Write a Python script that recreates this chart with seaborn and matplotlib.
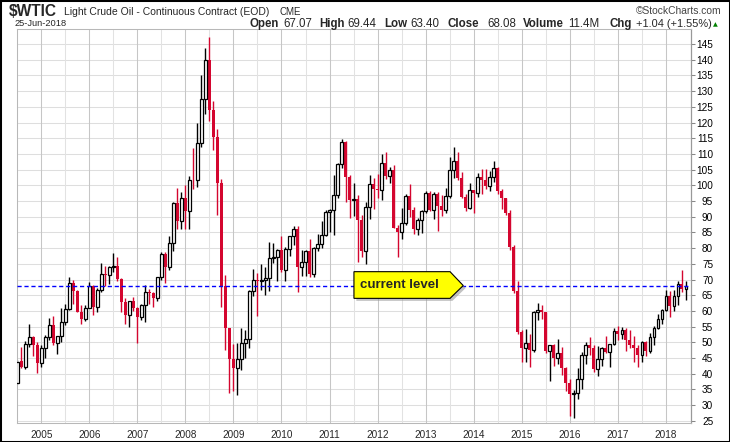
import numpy as np
import pandas as pd
import matplotlib
matplotlib.use("Agg")
import matplotlib.pyplot as plt
from matplotlib.patches import Polygon, Rectangle
import seaborn as sns

sns.set_style("white")
plt.rcParams['font.family'] = ['Liberation Sans', 'DejaVu Sans']

# monthly candles, Jul 2004 .. Jun 2018
opens = [
    37.1, 43.9, 42.1, 49.6, 51.8, 49.1,
    43.4, 48.2, 51.8, 55.4, 49.7, 52.0, 56.5, 60.6, 68.9, 66.2, 59.8, 57.3,
    61.0, 67.9, 61.4, 66.6, 71.9, 71.3, 73.9, 74.4, 70.3, 62.9, 58.7, 63.1,
    61.0, 58.1, 61.8, 65.9, 65.7, 64.0, 70.7, 78.2, 74.0, 81.7, 94.5, 88.7,
    96.0, 91.8, 101.8, 101.6, 113.5, 127.4, 140.0, 124.1, 115.5, 100.6, 67.8, 54.4,
    44.6, 41.7, 44.8, 49.7, 51.1, 66.3, 69.9, 69.5, 70.0, 70.6, 77.0, 77.3,
    79.4, 72.9, 79.7, 83.8, 86.2, 74.0, 75.6, 79.0, 71.9, 80.0, 81.4, 84.1,
    91.4, 92.2, 97.0, 106.7, 113.9, 102.7, 95.4, 95.7, 88.8, 79.2, 93.2, 100.4,
    98.8, 98.5, 107.1, 103.0, 104.9, 86.5, 85.0, 88.1, 96.5, 92.2, 86.2, 88.9,
    91.8, 97.5, 92.1, 97.2, 93.5, 92.0, 96.6, 105.0, 107.7, 102.3, 96.4, 92.7,
    98.4, 97.5, 102.6, 101.6, 99.7, 102.7, 105.4, 98.2, 96.0, 91.2, 80.5, 66.2,
    53.3, 48.2, 49.8, 47.6, 59.6, 60.3, 59.5, 47.1, 49.2, 45.1, 46.6, 41.7,
    37.0, 33.6, 33.8, 38.3, 45.9, 49.1, 48.3, 41.6, 44.7, 48.2, 46.9, 49.4,
    53.7, 52.8, 54.0, 50.6, 49.3, 48.3, 46.0, 50.2, 47.2, 51.7, 54.4, 57.4,
    60.4, 64.7, 61.6, 64.9, 68.6, 67.07,
]
highs = [
    44.3, 48.5, 50.5, 55.7, 52.0, 50.0,
    49.0, 52.4, 57.6, 58.3, 52.1, 60.9, 62.3, 70.9, 70.0, 66.6, 62.0, 61.9,
    69.2, 68.3, 67.4, 75.4, 74.4, 74.2, 78.4, 77.3, 70.4, 64.0, 63.3, 64.3,
    61.3, 62.3, 68.1, 66.9, 66.0, 70.9, 78.8, 78.8, 83.9, 94.7, 99.3, 97.9,
    100.1, 103.1, 111.8, 119.9, 135.1, 143.7, 147.3, 127.0, 117.8, 102.0, 71.5, 54.7,
    49.6, 49.9, 54.7, 54.0, 66.6, 73.4, 72.0, 75.0, 74.1, 82.0, 81.5, 79.7,
    83.9, 80.5, 83.9, 87.2, 87.0, 79.4, 79.4, 82.9, 80.5, 84.4, 88.6, 92.0,
    92.6, 103.4, 107.0, 114.8, 114.2, 103.4, 100.6, 96.9, 90.5, 94.7, 103.4, 102.4,
    103.7, 110.0, 110.6, 106.0, 106.4, 87.3, 92.9, 97.4, 100.4, 93.0, 89.7, 92.0,
    98.2, 98.2, 97.8, 97.8, 97.0, 99.0, 108.9, 112.2, 110.7, 104.4, 97.1, 100.8,
    98.5, 103.8, 105.2, 105.2, 104.5, 107.7, 105.8, 98.8, 96.0, 92.2, 80.9, 69.4,
    54.0, 54.2, 52.5, 59.9, 62.6, 61.8, 59.7, 49.3, 49.4, 50.9, 48.4, 42.0,
    38.4, 34.8, 41.9, 46.8, 50.2, 51.7, 49.0, 48.8, 48.4, 51.9, 49.6, 54.5,
    55.2, 54.9, 54.6, 53.8, 52.0, 49.0, 50.4, 50.4, 52.9, 55.2, 59.0, 60.5,
    66.7, 66.4, 66.6, 69.6, 72.9, 69.44,
]
lows = [
    36.6, 41.9, 41.6, 48.6, 45.6, 40.3,
    42.1, 45.0, 50.7, 49.2, 46.2, 50.0, 55.5, 60.2, 62.2, 59.5, 55.8, 56.8,
    60.8, 58.8, 59.6, 65.9, 68.0, 68.5, 72.3, 69.6, 59.5, 55.9, 54.9, 60.1,
    49.9, 57.2, 56.4, 62.1, 61.3, 63.3, 69.7, 69.0, 72.9, 79.1, 86.0, 86.1,
    86.1, 86.1, 98.7, 99.6, 112.3, 122.7, 120.4, 111.3, 90.5, 61.3, 47.5, 34.0,
    34.5, 33.2, 41.2, 45.0, 48.3, 64.8, 58.3, 66.7, 65.1, 66.2, 75.2, 69.5,
    72.4, 69.5, 77.6, 81.0, 66.0, 71.0, 71.0, 70.8, 70.8, 79.2, 80.1, 84.0,
    85.1, 84.1, 96.0, 105.5, 94.6, 89.6, 90.3, 75.7, 77.1, 75.0, 89.2, 92.5,
    96.0, 95.4, 102.0, 100.7, 86.4, 77.3, 83.0, 87.5, 90.0, 84.5, 84.1, 84.7,
    91.3, 91.8, 89.3, 85.6, 90.2, 91.1, 96.1, 102.2, 101.6, 95.9, 91.8, 92.5,
    91.2, 96.2, 97.4, 98.7, 98.2, 101.0, 97.3, 92.5, 90.4, 79.4, 65.7, 52.7,
    43.6, 43.6, 42.0, 47.0, 57.0, 57.4, 46.7, 37.8, 42.5, 43.0, 39.6, 34.5,
    26.5, 26.0, 32.0, 35.2, 43.0, 46.0, 40.6, 39.2, 42.5, 46.6, 42.2, 49.3,
    50.7, 51.2, 47.1, 48.2, 43.8, 42.1, 43.6, 45.6, 46.5, 49.1, 54.2, 55.8,
    59.9, 58.1, 59.9, 62.0, 66.1, 63.40,
]
closes = [
    43.8, 42.1, 49.6, 51.8, 49.1, 43.5,
    48.2, 51.8, 55.4, 49.7, 52.0, 56.5, 60.6, 68.9, 66.2, 59.8, 57.3, 61.0,
    67.9, 61.4, 66.6, 71.9, 71.3, 73.9, 74.4, 70.3, 62.9, 58.7, 63.1, 61.0,
    58.1, 61.8, 65.9, 65.7, 64.0, 70.7, 78.2, 74.0, 81.7, 94.5, 88.7, 96.0,
    91.8, 101.8, 101.6, 113.5, 127.4, 140.0, 124.1, 115.5, 100.6, 67.8, 54.4, 44.6,
    41.7, 44.8, 49.7, 51.1, 66.3, 69.9, 69.5, 70.0, 70.6, 77.0, 77.3, 79.4,
    72.9, 79.7, 83.8, 86.2, 74.0, 75.6, 79.0, 71.9, 80.0, 81.4, 84.1, 91.4,
    92.2, 97.0, 106.7, 113.9, 102.7, 95.4, 95.7, 88.8, 79.2, 93.2, 100.4, 98.8,
    98.5, 107.1, 103.0, 104.9, 86.5, 85.0, 88.1, 96.5, 92.2, 86.2, 88.9, 91.8,
    97.5, 92.1, 97.2, 93.5, 92.0, 96.6, 105.0, 107.7, 102.3, 96.4, 92.7, 98.4,
    97.5, 102.6, 101.6, 99.7, 102.7, 105.4, 98.2, 96.0, 91.2, 80.5, 66.2, 53.3,
    48.2, 49.8, 47.6, 59.6, 60.3, 59.5, 47.1, 49.2, 45.1, 46.6, 41.7, 37.0,
    33.6, 33.8, 38.3, 45.9, 49.1, 48.3, 41.6, 44.7, 48.2, 46.9, 49.4, 53.7,
    52.8, 54.0, 50.6, 49.3, 48.3, 46.0, 50.2, 47.2, 51.7, 54.4, 57.4, 60.4,
    64.7, 61.6, 64.9, 68.6, 67.0, 68.08,
]
current_level = 68.08
y_ticks = list(range(25, 150, 5))

df = pd.DataFrame({
    "month": pd.date_range("2004-07-01", periods=len(closes), freq="MS"),
    "open": opens, "high": highs, "low": lows, "close": closes,
})
df["x"] = np.arange(len(df))
df["up"] = df["close"] >= df["open"]

W, H = 730, 442
fig = plt.figure(figsize=(W / 100, H / 100), dpi=100)
ax = fig.add_axes([16.7 / W, 1 - 423.3 / H, (691 - 16.7) / W, (423.3 - 29) / H])

def px(x, y):
    return x / W, 1 - y / H

# grid
for v in y_ticks:
    ax.axhline(v, color='#dedede', lw=0.75, zorder=0)
years = df[df["month"].dt.month == 1]
julys = df[df["month"].dt.month == 7]
for i in julys["x"]:
    ax.axvline(i, color='#e2e2e2', lw=0.75, zorder=0)
for i in years["x"]:
    ax.axvline(i, color='#c6c6c6', lw=0.75, zorder=0)

red = '#d4062f'
dn = df[~df["up"]]
up = df[df["up"]]
ax.vlines(dn["x"], dn["low"], dn["high"], color=red, lw=1.0, zorder=2)
ax.vlines(up["x"], up["low"], up["high"], color='black', lw=1.0, zorder=2)
ax.bar(dn["x"], dn["open"] - dn["close"], bottom=dn["close"], width=0.85,
       color=red, lw=0, zorder=3)
ax.bar(up["x"], (up["close"] - up["open"]).clip(lower=0.15), bottom=up["open"], width=0.62,
       facecolor='white', edgecolor='black', lw=0.9, zorder=3)

ax.axhline(current_level, color='#0000ff', lw=1.0, ls=(0, (3, 2)), zorder=4)

# callout
xl, xr, xt = 84.1, 108.1, 111.4
yt, yb = 72.5, 64.0
shape = [(xl, yt), (xr, yt), (xt, current_level), (xr, yb), (xl, yb)]
shadow = [(x + 0.6, y - 0.8) for x, y in shape]
ax.add_patch(Polygon(shadow, closed=True, facecolor='#9a9a9a', edgecolor='none', alpha=0.6, zorder=5))
ax.add_patch(Polygon(shape, closed=True, facecolor='#ffff00', edgecolor='black', lw=0.8, zorder=6))
ax.text(85.5, 68.3, "current level", fontsize=9.5, fontweight='bold', ha='left', va='center', zorder=7)

ax.set_xlim(-0.15, 168.3)
ax.set_ylim(24.2, 149.8)

# axes
ax.yaxis.tick_right()
ax.set_yticks(y_ticks)
ax.set_yticklabels([str(v) for v in y_ticks])
ax.tick_params(axis='y', length=3, width=0.75, color='#888888', labelsize=7.2, pad=13, labelcolor='black')
for lab in ax.get_yticklabels():
    lab.set_horizontalalignment('right')
ax.set_xticks(years["x"])
ax.set_xticklabels(years["month"].dt.year.astype(str))
ax.set_xticks(df["x"], minor=True)
ax.tick_params(axis='x', which='major', length=0, labelsize=7.2, pad=5)
ax.tick_params(axis='x', which='minor', length=1.5, width=0.6, color='#9a9a9a')
for side in ['left', 'top', 'bottom']:
    ax.spines[side].set_color('#b8b8b8')
    ax.spines[side].set_linewidth(0.75)
ax.spines['right'].set_color('#999999')
ax.spines['right'].set_linewidth(0.9)

# header
fig.text(*px(8.8, 16), "$WTIC", fontsize=11.2, fontweight='bold', va='baseline')
fig.text(*px(64.4, 15), "Light Crude Oil - Continuous Contract (EOD)", fontsize=7.5, va='baseline')
fig.text(*px(279.5, 15), "CME", fontsize=7.0, va='baseline')
fig.text(*px(721, 13.5), "\u00a9StockCharts.com", fontsize=7.4, color='#444444', ha='right', va='baseline')
fig.text(*px(15, 26.5), "25-Jun-2018", fontsize=6.7, va='baseline')
row = [("Open", 250.0, True), ("67.07", 283.8, False), ("High", 319.6, True), ("69.44", 347.6, False),
       ("Low", 384.2, True), ("63.40", 410.4, False), ("Close", 448.0, True), ("68.08", 487.5, False),
       ("Volume", 523.4, True), ("11.4M", 568.2, False), ("Chg", 609.4, True)]
for txt, x, bold in row:
    fig.text(*px(x, 27), txt, fontsize=8.3, fontweight='bold' if bold else 'normal', va='baseline')
fig.text(*px(635.6, 27), "+1.04 (+1.55%)", fontsize=7.9, va='baseline')
fig.text(*px(713, 26.5), "\u25b2", fontsize=4.5, color='#008000', va='baseline',
         family=['DejaVu Sans'])

fig.patches.append(Rectangle((0, 0), 1, 1, transform=fig.transFigure, fill=False,
                             edgecolor='black', lw=2.2))

fig.savefig("out.png", dpi=100)
